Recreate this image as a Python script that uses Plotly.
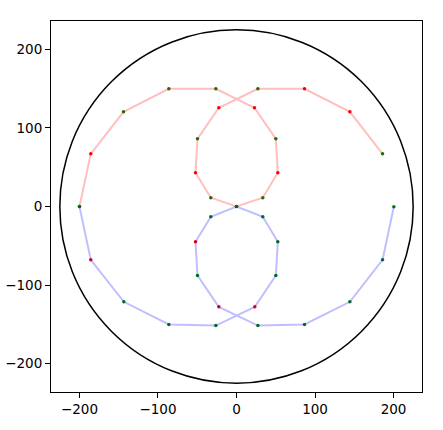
import plotly.graph_objects as go

# upper (red) path
red_x = [-200, -185.6, -143.9, -86.2, -26.3, 22.9, 50.1, 52.6, 33.5, 0,
         -32.7, -52.2, -49.7, -22.5, 27.2, 86.6, 144.4, 186.0]
red_y = [0, 67.1, 120.6, 149.9, 149.9, 125.7, 86.2, 42.9, 11.1, 0,
         11.1, 42.9, 86.2, 125.7, 149.9, 149.9, 120.6, 67.1]
red_dots = ['g', 'r', 'g', 'g', 'g', 'r', 'g', 'r', 'g', 'g',
            'g', 'r', 'g', 'r', 'g', 'r', 'r', 'g']

# lower (blue) path
blue_x = [-200, -185.6, -143.5, -86.2, -26.3, 23.3, 50.1, 52.6, 33.5, 0,
          -32.7, -52.2, -49.7, -22.5, 27.2, 86.6, 144.4, 186.0, 200.4]
blue_y = [0, -67.9, -121.4, -150.3, -151.6, -127.8, -87.9, -45.0, -13.1, 0,
          -13.1, -45.0, -87.9, -127.8, -151.6, -150.3, -121.4, -67.9, -0.4]
blue_dots = ['g', 'r', 'g', 'g', 'g', 'r', 'g', 'g', 'g', 'g',
             'g', 'r', 'g', 'r', 'g', 'g', 'g', 'g', 'g']

circle_r = 225
ticks = [-200, -100, 0, 100, 200]

dot_col = {'g': '#008000', 'r': '#ff0000'}

fig = go.Figure()
# dots first, then the translucent paths over them (tints the dots like the original)
fig.add_trace(go.Scatter(x=red_x, y=red_y, mode='markers',
                         marker=dict(size=3.5, color=[dot_col[c] for c in red_dots])))
fig.add_trace(go.Scatter(x=blue_x, y=blue_y, mode='markers',
                         marker=dict(size=3.5, color=[dot_col[c] for c in blue_dots])))
fig.add_trace(go.Scatter(x=red_x, y=red_y, mode='lines',
                         line=dict(color='rgba(255,0,0,0.25)', width=2)))
fig.add_trace(go.Scatter(x=blue_x, y=blue_y, mode='lines',
                         line=dict(color='rgba(0,0,255,0.25)', width=2)))

fig.add_shape(type='circle', xref='x', yref='y', x0=-circle_r, y0=-circle_r,
              x1=circle_r, y1=circle_r, line=dict(color='black', width=1.5))

lim = circle_r * 1.05
axis = dict(range=[-lim, lim], tickvals=ticks, showgrid=False, zeroline=False,
            showline=True, mirror=True, linecolor='black', linewidth=1,
            ticks='outside', ticklen=5, tickcolor='black', automargin=False,
            tickfont=dict(family='DejaVu Sans', size=13.5, color='black'))
fig.update_layout(
    width=443, height=430, showlegend=False,
    plot_bgcolor='white', paper_bgcolor='white',
    margin=dict(l=51, r=21, t=21, b=38),
    xaxis=axis, yaxis=axis,
)
# drop the default 8px page margin so the figure sits at the window corner
fig.write_html("out.html", config={'displayModeBar': False},
               post_script="document.body.style.margin='0';")
